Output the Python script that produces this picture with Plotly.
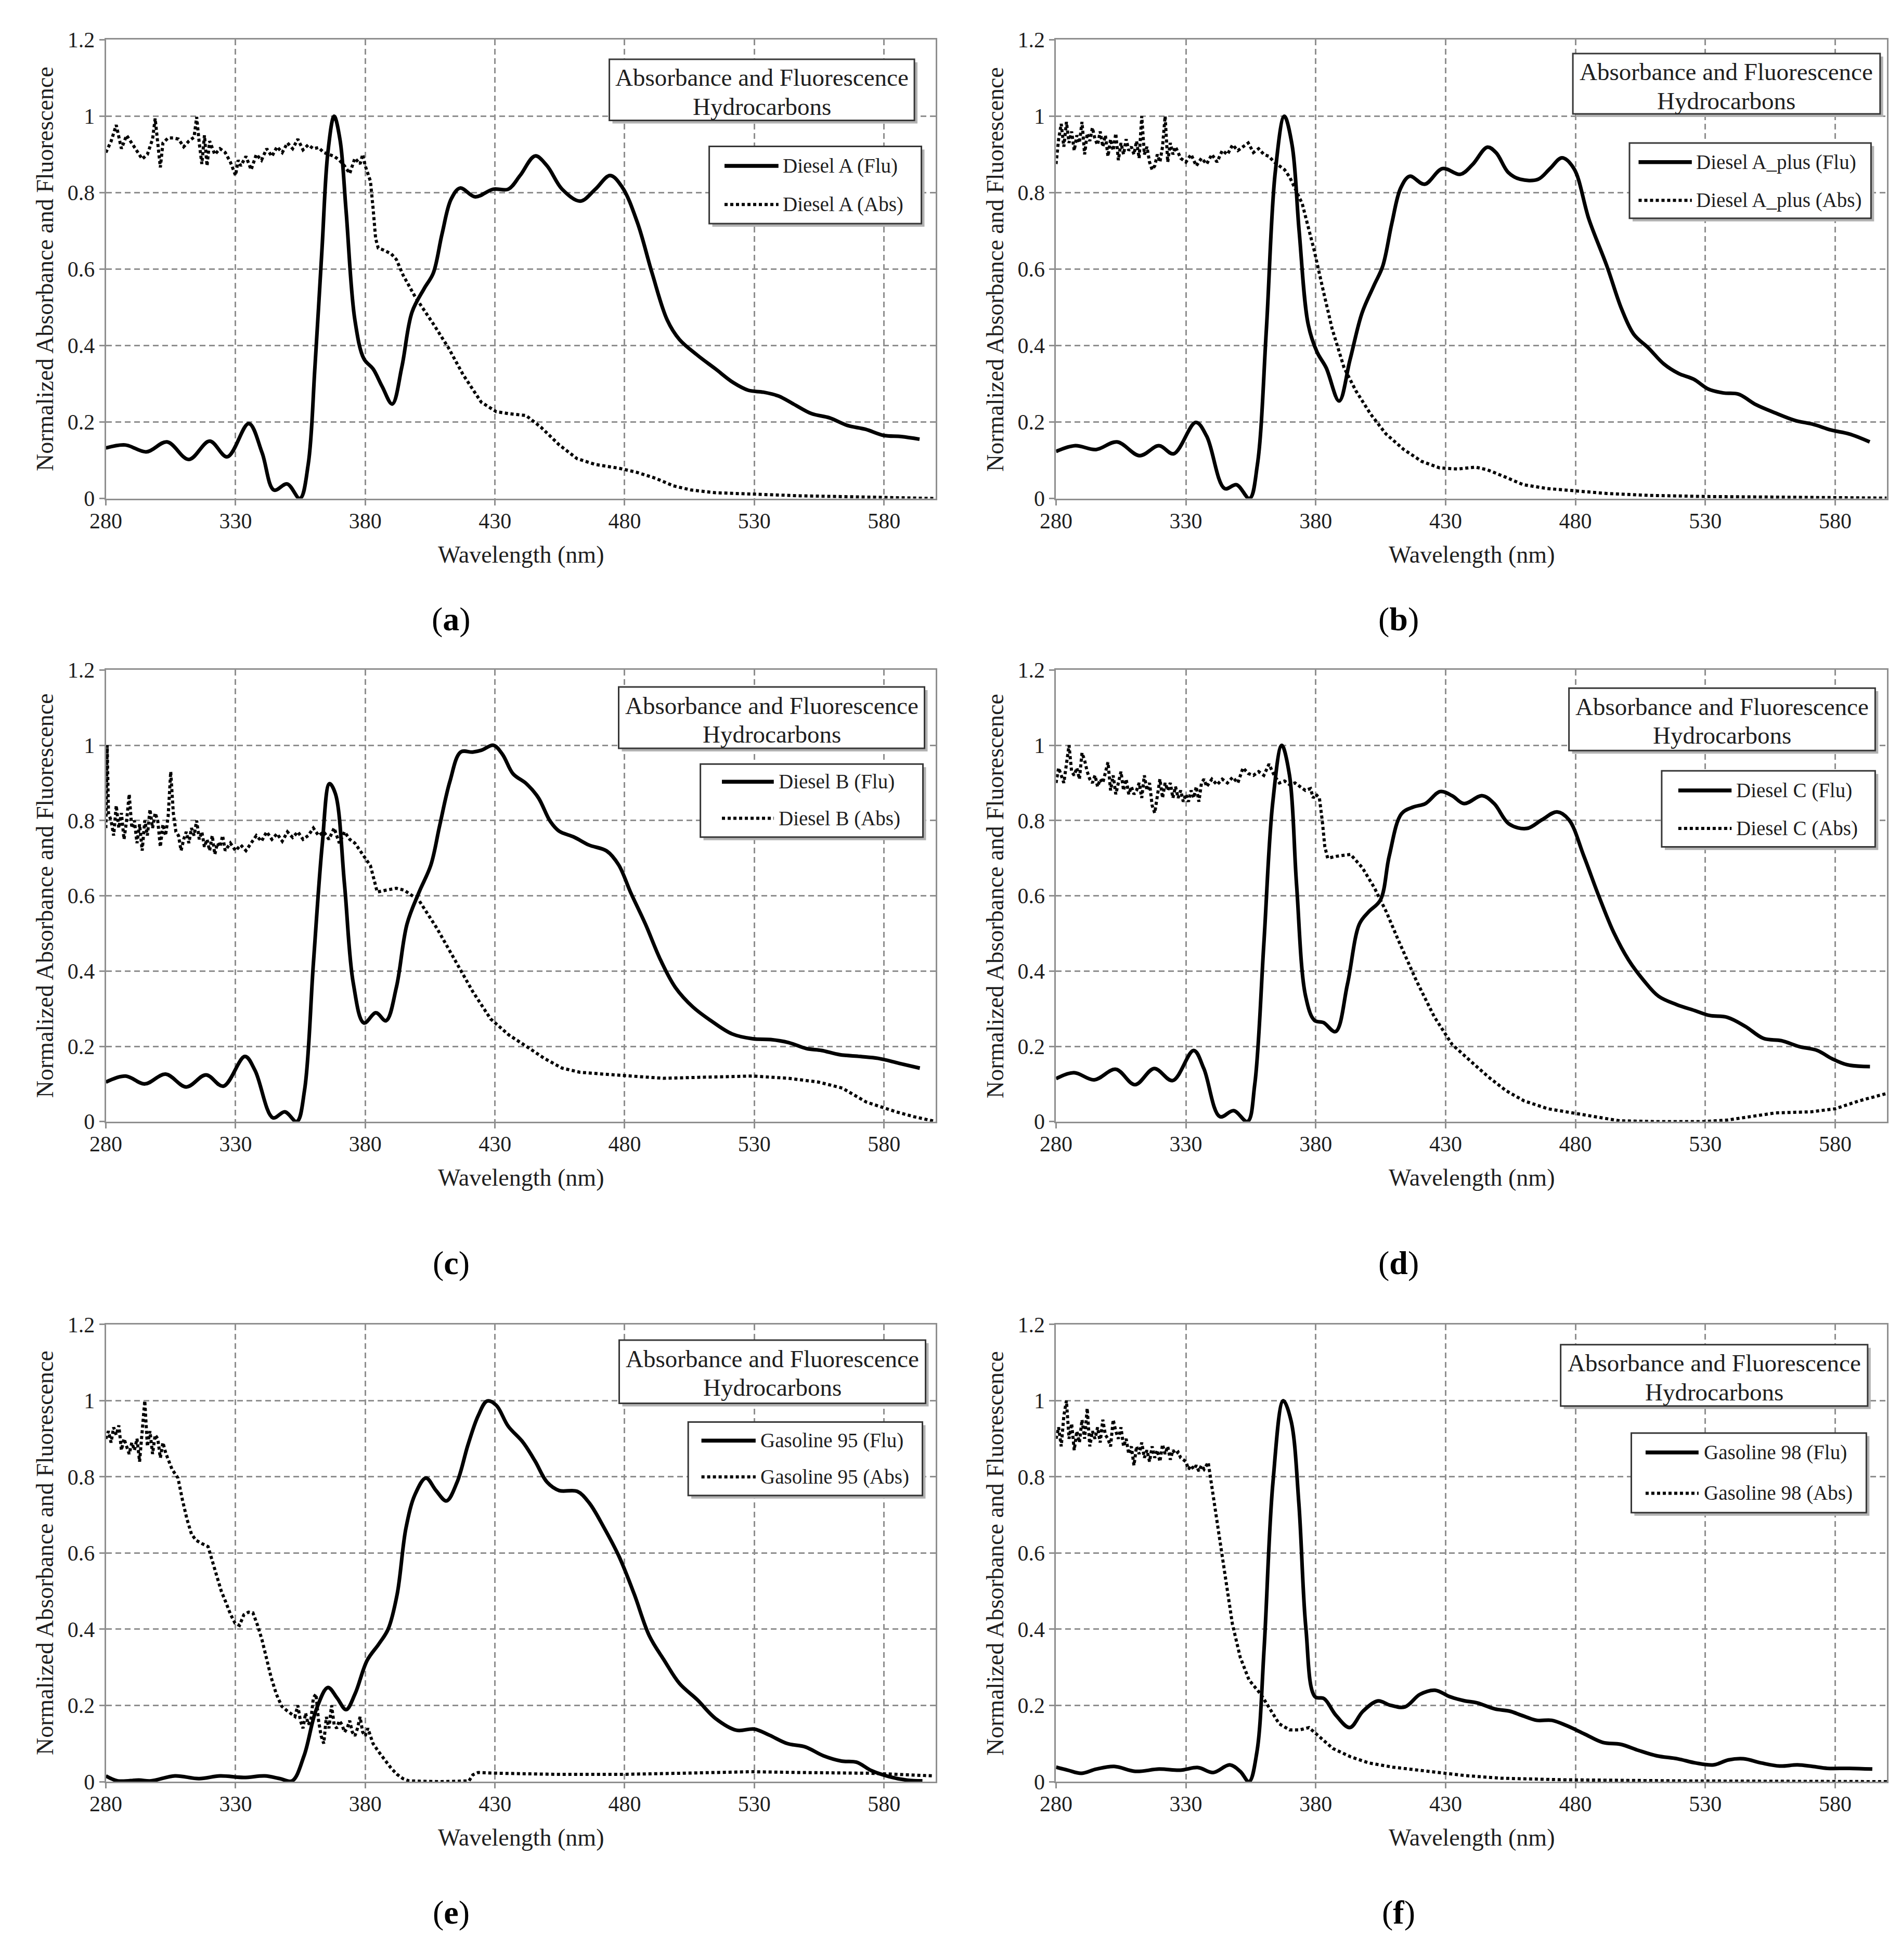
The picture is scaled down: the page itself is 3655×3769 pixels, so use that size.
import plotly.graph_objects as go
from plotly.subplots import make_subplots

# axis ticks
WAVE_TICKS = [280, 330, 380, 430, 480, 530, 580]
VALUE_TICKS = [0, 0.2, 0.4, 0.6, 0.8, 1.0, 1.2]
VALUE_TICK_TEXT = ["0", "0.2", "0.4", "0.6", "0.8", "1", "1.2"]

SAMPLES = ["Diesel A", "Diesel A_plus", "Diesel B", "Diesel C", "Gasoline 95", "Gasoline 98"]
PANEL_TAGS = ["a", "b", "c", "d", "e", "f"]
BOX_TITLE = ["Absorbance and Fluorescence", "Hydrocarbons"]

# (wavelength nm, normalized value)
A_FLU = [(280, 0.132), (287.4, 0.14), (295.7, 0.122), (303.6, 0.148), (312, 0.102), (320, 0.15),
         (326.8, 0.109), (335.1, 0.196), (340.2, 0.12), (344.8, 0.022), (349.9, 0.038), (354.8, 0.0),
         (358, 0.089), (360.6, 0.344), (363.3, 0.65), (365.6, 0.906), (368, 1.0), (370.3, 0.937),
         (372.6, 0.753), (376, 0.467), (379.5, 0.365), (383, 0.339), (386.5, 0.293), (390.4, 0.247),
         (394.1, 0.344), (398, 0.487), (402.7, 0.549), (406.2, 0.589), (409.6, 0.692), (413.1, 0.783),
         (416.6, 0.812), (422.4, 0.789), (429.3, 0.809), (435.1, 0.809), (439.7, 0.845), (445.5, 0.896),
         (450.1, 0.87), (455.9, 0.809), (462.9, 0.778), (468.7, 0.809), (474.4, 0.845), (479.1, 0.814),
         (484.9, 0.722), (490.6, 0.589), (496.4, 0.467), (501.1, 0.416), (508, 0.375), (515, 0.339),
         (521.9, 0.303), (527.7, 0.283), (533.5, 0.278), (539.3, 0.268), (545.1, 0.247), (552, 0.222),
         (558.9, 0.211), (565.9, 0.191), (572.8, 0.181), (579.8, 0.165), (586.7, 0.162), (593.7, 0.155)]
A_ABS = [(280, 0.905), (282, 0.934), (284, 0.977), (286, 0.915), (288, 0.95), (290, 0.93), (292, 0.91),
         (294, 0.888), (296, 0.9), (298, 0.94), (299, 0.994), (300, 0.92), (301, 0.866), (302, 0.93),
         (304, 0.943), (306, 0.943), (308, 0.94), (310, 0.92), (312, 0.935), (314, 0.945), (315, 0.998),
         (316, 0.93), (317, 0.875), (318, 0.95), (319, 0.87), (320, 0.935), (322, 0.9), (324, 0.915),
         (326, 0.905), (328, 0.88), (330, 0.845), (331, 0.885), (332, 0.87), (334, 0.895), (336, 0.86),
         (338, 0.9), (340, 0.885), (342, 0.915), (344, 0.895), (346, 0.92), (348, 0.905), (350, 0.93),
         (352, 0.915), (354, 0.94), (356, 0.912), (358, 0.925), (360, 0.915), (362, 0.918), (364, 0.905),
         (366, 0.9), (368, 0.895), (370, 0.885), (372, 0.87), (374, 0.85), (376, 0.89), (378, 0.875),
         (379, 0.9), (380, 0.87), (381, 0.85), (382, 0.83), (383, 0.76), (384, 0.68), (385, 0.655),
         (387, 0.65), (390, 0.64), (392, 0.625), (394.6, 0.584), (399.2, 0.528), (406.2, 0.457),
         (412, 0.395), (417.7, 0.324), (424.7, 0.252), (430.5, 0.227), (435.1, 0.222), (442, 0.217),
         (447.8, 0.186), (454.8, 0.14), (461.7, 0.104), (468.7, 0.089), (477.9, 0.079), (484.9, 0.068),
         (491.8, 0.053), (498.8, 0.033), (505.7, 0.022), (515, 0.015), (528.8, 0.011), (547.4, 0.007),
         (570.5, 0.004), (599.4, 0.0)]

B_FLU = [(280, 0.123), (287.4, 0.138), (295.4, 0.128), (303.5, 0.148), (312.2, 0.112), (319.6, 0.138),
         (325.3, 0.117), (333.8, 0.199), (338, 0.163), (344.9, 0.026), (349.5, 0.036), (354.5, 0.0),
         (357.5, 0.087), (361, 0.444), (364.4, 0.853), (367.9, 1.0), (370.9, 0.924), (373.6, 0.7),
         (377.1, 0.455), (380.5, 0.383), (384, 0.342), (389, 0.255), (393.2, 0.363), (397.8, 0.485),
         (402.4, 0.557), (405.8, 0.608), (409.3, 0.72), (412.7, 0.812), (416.2, 0.843), (421.9, 0.822),
         (428.8, 0.863), (435.7, 0.848), (440.3, 0.873), (446.1, 0.919), (449.5, 0.904), (454.1, 0.853),
         (458.7, 0.835), (465.6, 0.835), (470.2, 0.863), (474.8, 0.891), (479.4, 0.863), (485.2, 0.73),
         (492.1, 0.608), (497.8, 0.495), (502.5, 0.429), (508.2, 0.393), (514, 0.352), (519.7, 0.327),
         (525.5, 0.312), (531.2, 0.286), (537, 0.276), (542.7, 0.273), (549.6, 0.245), (556.5, 0.225),
         (564.6, 0.204), (571.5, 0.194), (578.4, 0.179), (585.3, 0.169), (593.3, 0.148)]
B_ABS = [(280, 0.875), (281, 0.94), (282, 0.98), (283, 0.92), (284, 0.985), (285, 0.93), (286, 0.96),
         (287, 0.91), (288, 0.95), (289, 0.93), (290, 0.985), (291, 0.9), (292, 0.955), (293, 0.935),
         (294, 0.97), (295, 0.94), (296, 0.925), (297, 0.96), (298, 0.92), (299, 0.95), (300, 0.895),
         (301, 0.94), (302, 0.91), (303, 0.955), (304, 0.885), (305, 0.93), (306, 0.9), (307, 0.94),
         (308, 0.91), (309, 0.92), (310, 0.9), (311, 0.935), (312, 0.89), (313, 1.0), (314, 0.9),
         (315, 0.92), (316, 0.88), (317, 0.86), (318, 0.87), (319, 0.9), (320, 0.88), (321, 0.92),
         (322, 1.0), (323, 0.88), (324, 0.93), (325, 0.9), (326, 0.92), (328, 0.89), (330, 0.88),
         (332, 0.9), (334, 0.87), (336, 0.89), (338, 0.875), (340, 0.9), (342, 0.88), (344, 0.91),
         (346, 0.9), (348, 0.925), (350, 0.91), (352, 0.92), (354, 0.93), (356, 0.905), (358, 0.915),
         (360, 0.9), (362, 0.895), (364, 0.88), (366, 0.87), (368, 0.86), (370, 0.84), (372, 0.81),
         (374.8, 0.771), (377.1, 0.71), (379.4, 0.649), (382.8, 0.546), (386.3, 0.444), (390.9, 0.342),
         (395.5, 0.281), (401.2, 0.22), (407, 0.169), (413.9, 0.128), (420.8, 0.097), (427.7, 0.08),
         (434.6, 0.077), (441.5, 0.082), (446.1, 0.075), (453, 0.056), (459.9, 0.036), (469.1, 0.026),
         (478.3, 0.02), (492.1, 0.013), (508.2, 0.008), (531.2, 0.005), (565.7, 0.003), (599.8, 0.001)]

C_FLU = [(280, 0.105), (287.6, 0.121), (295, 0.1), (303, 0.126), (311, 0.092), (318.6, 0.124),
         (325.3, 0.094), (333.6, 0.173), (337.5, 0.136), (344.4, 0.01), (349, 0.026), (353.6, 0.0),
         (356.6, 0.084), (360, 0.42), (363.4, 0.735), (366.2, 0.898), (368.5, 0.871), (372, 0.63),
         (375.4, 0.367), (379.5, 0.262), (384.1, 0.289), (388, 0.268), (392, 0.357), (396.1, 0.525),
         (400.7, 0.609), (405.3, 0.682), (408.7, 0.787), (412.6, 0.903), (416.8, 0.982), (421.4, 0.982),
         (424.8, 0.987), (429.4, 1.0), (432.9, 0.976), (437, 0.924), (442.1, 0.898), (446.7, 0.861),
         (451.3, 0.798), (454.7, 0.772), (460.5, 0.756), (466.2, 0.735), (473.1, 0.719), (477.7, 0.682),
         (482.3, 0.609), (488, 0.525), (493.8, 0.43), (499.5, 0.357), (506.4, 0.304), (513.3, 0.268),
         (521.4, 0.233), (529.4, 0.22), (536.3, 0.218), (543.2, 0.21), (550.1, 0.194), (555.9, 0.189),
         (562.8, 0.178), (570.8, 0.173), (577.7, 0.168), (585.7, 0.155), (593.8, 0.142)]
C_ABS = [(280, 0.78), (280.5, 1.0), (281, 0.82), (282, 0.8), (283, 0.76), (284, 0.84), (285, 0.78),
         (286, 0.82), (287, 0.75), (288, 0.8), (289, 0.87), (290, 0.78), (291, 0.8), (292, 0.74),
         (293, 0.79), (294, 0.72), (295, 0.8), (296, 0.76), (297, 0.83), (298, 0.78), (299, 0.82),
         (300, 0.8), (301, 0.73), (302, 0.79), (303, 0.76), (304, 0.81), (305, 0.93), (306, 0.82),
         (307, 0.77), (308, 0.76), (309, 0.72), (310, 0.75), (311, 0.77), (312, 0.74), (313, 0.78),
         (314, 0.76), (315, 0.8), (316, 0.75), (317, 0.77), (318, 0.73), (319, 0.75), (320, 0.72),
         (321, 0.76), (322, 0.71), (323, 0.74), (324, 0.73), (325, 0.76), (326, 0.72), (328, 0.74),
         (330, 0.72), (332, 0.735), (334, 0.72), (336, 0.74), (338, 0.76), (340, 0.745), (342, 0.77),
         (344, 0.75), (346, 0.765), (348, 0.745), (350, 0.77), (352, 0.755), (354, 0.77), (356, 0.75),
         (358, 0.76), (360, 0.78), (362, 0.76), (364, 0.77), (366, 0.75), (368, 0.78), (370, 0.74),
         (372, 0.77), (374, 0.75), (376, 0.74), (378, 0.72), (380, 0.7), (382, 0.68), (383.5, 0.64),
         (384.6, 0.61), (388, 0.615), (392, 0.62), (395, 0.615), (400.7, 0.588), (407.6, 0.514),
         (414.5, 0.43), (421.4, 0.346), (428.3, 0.273), (435.2, 0.231), (442.1, 0.2), (449, 0.168),
         (455.9, 0.142), (462.8, 0.131), (472, 0.126), (481.1, 0.121), (494.9, 0.115), (511, 0.118),
         (529.4, 0.121), (543.2, 0.115), (554.7, 0.105), (563.9, 0.089), (573.1, 0.052), (584.6, 0.026),
         (591.5, 0.013), (600, 0.0)]

D_FLU = [(280, 0.114), (286.9, 0.13), (294.7, 0.111), (303, 0.139), (310.4, 0.098), (317.8, 0.141),
         (324.9, 0.109), (333, 0.189), (336.9, 0.141), (343.1, 0.013), (348.4, 0.029), (353.7, 0.0),
         (356.5, 0.098), (360, 0.471), (363.4, 0.845), (366.9, 1.0), (369.9, 0.92), (372.6, 0.631),
         (376.1, 0.333), (379.5, 0.269), (383, 0.263), (387.6, 0.239), (392.2, 0.365), (396.8, 0.525),
         (400.3, 0.557), (404.9, 0.589), (408.3, 0.706), (413, 0.818), (417.6, 0.836), (422.2, 0.845),
         (427.9, 0.877), (432.5, 0.866), (437.1, 0.845), (444.1, 0.866), (448.7, 0.845), (454.4, 0.791),
         (461.3, 0.779), (467.1, 0.802), (472.9, 0.823), (477.5, 0.802), (483.2, 0.706), (489, 0.599),
         (494.7, 0.503), (500.5, 0.429), (506.3, 0.375), (512, 0.333), (518.9, 0.311), (525.9, 0.295),
         (531.6, 0.282), (538.5, 0.277), (545.4, 0.253), (552.4, 0.221), (559.3, 0.215), (566.2, 0.199),
         (573.1, 0.189), (578.8, 0.167), (584.6, 0.151), (593.4, 0.146)]
D_ABS = [(280, 0.9), (281, 0.94), (282, 0.92), (283, 0.9), (284, 0.95), (285, 1.0), (286, 0.93),
         (287, 0.92), (288, 0.94), (289, 0.91), (290, 0.98), (291, 0.96), (292, 0.93), (293, 0.91),
         (294, 0.9), (295, 0.92), (296, 0.89), (297, 0.91), (298, 0.9), (299, 0.93), (300, 0.955),
         (301, 0.88), (302, 0.92), (303, 0.87), (304, 0.9), (305, 0.93), (306, 0.88), (307, 0.91),
         (308, 0.87), (309, 0.89), (310, 0.87), (311, 0.88), (312, 0.9), (313, 0.86), (314, 0.92),
         (315, 0.88), (316, 0.9), (317, 0.84), (318, 0.82), (319, 0.87), (320, 0.91), (321, 0.86),
         (322, 0.9), (323, 0.88), (324, 0.9), (325, 0.86), (326, 0.89), (327, 0.86), (328, 0.88),
         (329, 0.85), (330, 0.87), (331, 0.85), (332, 0.88), (333, 0.86), (334, 0.89), (335, 0.85),
         (336, 0.9), (337, 0.91), (338, 0.89), (340, 0.91), (342, 0.895), (344, 0.91), (346, 0.9),
         (348, 0.915), (350, 0.9), (352, 0.94), (354, 0.925), (356, 0.92), (358, 0.93), (360, 0.92),
         (362, 0.95), (364, 0.92), (366, 0.9), (368, 0.905), (370, 0.895), (372, 0.9), (374, 0.89),
         (376, 0.88), (378, 0.885), (379, 0.86), (380, 0.87), (381.4, 0.86), (382.5, 0.8), (383.5, 0.73),
         (384.6, 0.7), (388, 0.705), (393.4, 0.71), (398, 0.674), (402.6, 0.621), (407.2, 0.557),
         (411.8, 0.482), (418.7, 0.375), (425.6, 0.279), (432.5, 0.205), (439.4, 0.162), (446.4, 0.119),
         (453.3, 0.082), (460.2, 0.055), (469.4, 0.034), (478.6, 0.023), (487.8, 0.011), (497, 0.002),
         (510.9, 0.0), (529.3, 0.0), (538.5, 0.004), (547.7, 0.013), (557, 0.023), (570.8, 0.026),
         (580, 0.034), (589.2, 0.055), (600, 0.075)]

E_FLU = [(280, 0.015), (284.6, 0.002), (292.7, 0.004), (297.4, 0.002), (306.6, 0.015), (315.9, 0.008),
         (324, 0.015), (333.2, 0.011), (341.3, 0.015), (347.1, 0.008), (351.8, 0.002), (356.4, 0.068),
         (361, 0.187), (365.6, 0.247), (369.1, 0.22), (372.6, 0.189), (376.1, 0.231), (380.7, 0.318),
         (385.3, 0.362), (388.8, 0.4), (392.3, 0.492), (395.7, 0.666), (399.2, 0.754), (403.4, 0.797),
         (407.3, 0.764), (411.3, 0.737), (415.4, 0.786), (419.6, 0.884), (423.5, 0.96), (427, 0.999),
         (430.5, 0.988), (435.1, 0.933), (440.9, 0.89), (445.5, 0.841), (450.1, 0.786), (454.8, 0.764),
         (461.7, 0.762), (466.3, 0.732), (472.1, 0.666), (477.9, 0.59), (483.7, 0.492), (489.5, 0.383),
         (495.3, 0.318), (501.1, 0.258), (508, 0.215), (515, 0.166), (523.1, 0.135), (530, 0.138),
         (535.8, 0.122), (542.7, 0.1), (549.7, 0.091), (556.6, 0.068), (563.6, 0.054), (569.4, 0.051),
         (575.1, 0.029), (582.1, 0.013), (589, 0.004), (594.8, 0.002)]
E_ABS = [(280, 0.9), (281, 0.92), (282, 0.89), (283, 0.93), (284, 0.91), (285, 0.935), (286, 0.87),
         (287, 0.9), (288, 0.88), (289, 0.86), (290, 0.89), (291, 0.87), (292, 0.9), (293, 0.84),
         (294, 0.92), (295, 1.0), (296, 0.88), (297, 0.92), (298, 0.86), (299, 0.91), (300, 0.9),
         (301, 0.85), (302, 0.89), (303.1, 0.862), (305.5, 0.82), (307.8, 0.797), (309.5, 0.74),
         (311.3, 0.688), (313, 0.65), (314.7, 0.634), (317, 0.625), (319.4, 0.617), (321, 0.58),
         (322.8, 0.536), (324.5, 0.5), (326.3, 0.47), (328, 0.44), (329.8, 0.416), (331.5, 0.41),
         (333.2, 0.438), (335, 0.445), (336.7, 0.443), (338.5, 0.41), (340.2, 0.372), (342, 0.32),
         (343.7, 0.274), (345.7, 0.23), (347.8, 0.198), (350, 0.185), (352.9, 0.171), (354, 0.2),
         (355, 0.16), (356, 0.14), (357, 0.18), (358, 0.15), (359, 0.16), (360, 0.22), (361, 0.23),
         (362, 0.16), (363, 0.12), (364, 0.1), (365, 0.17), (366, 0.14), (367, 0.2), (368, 0.15),
         (369, 0.14), (370, 0.16), (371, 0.15), (372, 0.13), (373, 0.14), (374, 0.16), (375, 0.13),
         (376, 0.12), (377, 0.14), (378, 0.17), (379, 0.13), (380, 0.12), (381, 0.14), (382, 0.12),
         (383, 0.1), (385, 0.08), (387.6, 0.057), (390, 0.035), (392.3, 0.019), (394.5, 0.008),
         (396.9, 0.002), (408.5, 0.0), (420, 0.002), (421.5, 0.018), (423.5, 0.024), (431.6, 0.022),
         (454.8, 0.019), (477.9, 0.019), (501.1, 0.022), (528.8, 0.026), (547.4, 0.024), (575.1, 0.022),
         (599.4, 0.015)]

F_FLU = [(280, 0.038), (284.6, 0.03), (289.7, 0.022), (295.5, 0.033), (302.4, 0.04), (310.5, 0.027),
         (319.7, 0.033), (327.8, 0.03), (334.7, 0.037), (340.5, 0.024), (346.9, 0.044), (350.9, 0.027),
         (354.3, 0.0), (357.3, 0.076), (360.1, 0.348), (363.5, 0.784), (367.5, 1.0), (370.5, 0.947),
         (373.5, 0.73), (376.2, 0.403), (379.7, 0.223), (383.2, 0.218), (387.8, 0.174), (393.1, 0.142),
         (398.2, 0.185), (404, 0.212), (408.5, 0.201), (414.3, 0.196), (420.1, 0.229), (425.9, 0.24),
         (431.6, 0.223), (437.4, 0.212), (442, 0.207), (448.9, 0.191), (454.7, 0.185), (459.3, 0.174),
         (465.1, 0.161), (470.9, 0.161), (476.6, 0.147), (483.5, 0.125), (490.5, 0.103), (497.4, 0.098),
         (504.3, 0.082), (511.2, 0.068), (519.3, 0.06), (526.3, 0.049), (533.2, 0.044), (538.9, 0.057),
         (544.7, 0.06), (551.6, 0.049), (558.6, 0.041), (565.5, 0.044), (571.3, 0.04), (577, 0.035),
         (585.1, 0.035), (594.3, 0.033)]
F_ABS = [(280, 0.9), (281, 0.93), (282, 0.88), (283, 0.96), (284, 1.0), (285, 0.9), (286, 0.94),
         (287, 0.87), (288, 0.92), (289, 0.89), (290, 0.95), (291, 0.9), (292, 0.98), (293, 0.88),
         (294, 0.92), (295, 0.9), (296, 0.93), (297, 0.89), (298, 0.95), (299, 0.91), (300, 0.9),
         (301, 0.88), (302, 0.95), (303, 0.92), (304, 0.9), (305, 0.93), (306, 0.88), (307, 0.9),
         (308, 0.86), (309, 0.88), (310, 0.83), (311, 0.88), (312, 0.86), (313, 0.89), (314, 0.85),
         (315, 0.87), (316, 0.84), (317, 0.88), (318, 0.85), (319, 0.87), (320, 0.84), (321, 0.885),
         (322, 0.86), (323, 0.88), (324, 0.845), (325, 0.87), (326, 0.86), (327, 0.865), (328, 0.85),
         (330, 0.84), (331, 0.82), (332, 0.83), (333, 0.82), (334, 0.83), (335, 0.815), (336, 0.83),
         (337, 0.82), (338.6, 0.838), (340.5, 0.751), (342.8, 0.642), (345.1, 0.534), (347.9, 0.414),
         (350.9, 0.327), (354.3, 0.267), (358.9, 0.229), (362.4, 0.191), (365.9, 0.152), (369.9, 0.136),
         (373.9, 0.136), (377.4, 0.142), (382, 0.114), (386.6, 0.087), (393.5, 0.065), (400.5, 0.049),
         (409.7, 0.038), (423.5, 0.027), (437.4, 0.016), (451.2, 0.009), (474.3, 0.005), (520.5, 0.002),
         (600, 0.0)]

FLU_SERIES = [A_FLU, B_FLU, C_FLU, D_FLU, E_FLU, F_FLU]
ABS_SERIES = [A_ABS, B_ABS, C_ABS, D_ABS, E_ABS, F_ABS]

# layout (pixels of the 3655 x 3769 page)
W, H = 3655, 3769
COLS = [(165, 1775), (2008, 3620)]
ROWS = [(47, 940), (1274, 2153), (2548, 3438)]
TAG_Y = [1175, 2428, 3693]
TAG_X = [835, 2672]
NM_PER_PX = 320 / 1610

# boxes in data units of each panel
TITLE_BOX = [  # x0, x1, y0, y1
    (474.1, 591.7, 0.989, 1.149),
    (479, 597.3, 1.006, 1.164),
    (477.7, 595.6, 0.992, 1.155),
    (477.5, 595.4, 0.986, 1.152),
    (477.9, 596, 0.993, 1.159),
    (474.3, 592.5, 0.986, 1.147),
]
LEGEND_BOX = [  # x0, x1, y0, y1, line x0, line x1, row1 y, row2 y, text x
    (512.6, 594.4, 0.719, 0.921, 518.5, 539.3, 0.87, 0.769, 540.5),
    (500.8, 593.8, 0.733, 0.93, 504.3, 524.8, 0.88, 0.78, 526),
    (509.2, 595, 0.756, 0.95, 517.5, 537.5, 0.903, 0.806, 539),
    (513.2, 595.4, 0.73, 0.932, 519.6, 540.1, 0.88, 0.779, 541.5),
    (504.5, 594.8, 0.751, 0.944, 509.6, 530.5, 0.895, 0.8, 532),
    (501.5, 592, 0.706, 0.915, 507, 527.4, 0.864, 0.757, 529),
]

FONT = "Liberation Serif, Times New Roman, serif"
TXT = "#1e1e1e"
AXC = "#8f8f8f"
BOXC = "#363636"
SHADOW = "#b2b2b2"
DOTS = "6px,5px"


def boxed(fig, xr, yr, x0, x1, y0, y1, units_per_px):
    # white box with a soft drop shadow to the lower right
    dx, dy = 6 * NM_PER_PX, 6 * units_per_px
    fig.add_shape(type="rect", xref=xr, yref=yr, x0=x0 + dx, x1=x1 + dx, y0=y0 - dy, y1=y1 - dy,
                  fillcolor=SHADOW, line=dict(width=0))
    fig.add_shape(type="rect", xref=xr, yref=yr, x0=x0, x1=x1, y0=y0, y1=y1,
                  fillcolor="white", line=dict(color=BOXC, width=3))


fig = make_subplots(rows=3, cols=2)

for i, tag in enumerate(PANEL_TAGS):
    r, c = i // 2, i % 2
    fx, fy = zip(*FLU_SERIES[i])
    ax, ay = zip(*ABS_SERIES[i])
    fig.add_trace(go.Scatter(x=fx, y=fy, mode="lines", name=SAMPLES[i] + " (Flu)",
                             line=dict(color="black", width=7, shape="spline", smoothing=1.0)),
                  row=r + 1, col=c + 1)
    fig.add_trace(go.Scatter(x=ax, y=ay, mode="lines", name=SAMPLES[i] + " (Abs)",
                             line=dict(color="black", width=6, dash=DOTS)),
                  row=r + 1, col=c + 1)

    sfx = "" if i == 0 else str(i + 1)
    xa, ya = "xaxis" + sfx, "yaxis" + sfx
    xr, yr = "x" + sfx, "y" + sfx
    x0, x1 = COLS[c]
    top, bot = ROWS[r]
    upp = 1.2 / (bot - top)
    fig.layout[xa].domain = [x0 / W, x1 / W]
    fig.layout[ya].domain = [1 - bot / H, 1 - top / H]

    # axis titles
    fig.add_annotation(text="Wavelength (nm)", xref="paper", yref="paper",
                       x=(x0 + x1) / 2 / W, y=1 - (bot + 109) / H, showarrow=False,
                       xanchor="center", yanchor="middle",
                       font=dict(family=FONT, size=46, color=TXT))
    fig.add_annotation(text="Normalized Absorbance and Fluorescence", xref="paper", yref="paper",
                       x=(x0 - 118) / W, y=1 - (top + bot) / 2 / H, textangle=-90, showarrow=False,
                       xanchor="center", yanchor="middle",
                       font=dict(family=FONT, size=46, color=TXT))
    # panel tag
    fig.add_annotation(text="(<b>%s</b>)" % tag, xref="paper", yref="paper",
                       x=TAG_X[c] / W, y=1 - TAG_Y[r] / H, showarrow=False,
                       xanchor="center", yanchor="middle",
                       font=dict(family=FONT, size=64, color="black"))

    # title box
    tx0, tx1, ty0, ty1 = TITLE_BOX[i]
    boxed(fig, xr, yr, tx0, tx1, ty0, ty1, upp)
    for k, line in enumerate(BOX_TITLE):
        fig.add_annotation(text=line, xref=xr, yref=yr, x=(tx0 + tx1) / 2,
                           y=ty1 - (36 + 56 * k) * upp, showarrow=False,
                           xanchor="center", yanchor="middle",
                           font=dict(family=FONT, size=47, color=TXT))

    # legend box
    bx0, bx1, by0, by1, lx0, lx1, ly1, ly2, ltx = LEGEND_BOX[i]
    boxed(fig, xr, yr, bx0, bx1, by0, by1, upp)
    fig.add_shape(type="line", xref=xr, yref=yr, x0=lx0, x1=lx1, y0=ly1, y1=ly1,
                  line=dict(color="black", width=7.5))
    fig.add_shape(type="line", xref=xr, yref=yr, x0=lx0, x1=lx1, y0=ly2, y1=ly2,
                  line=dict(color="black", width=6, dash=DOTS))
    for yy, lab in ((ly1, " (Flu)"), (ly2, " (Abs)")):
        fig.add_annotation(text=SAMPLES[i] + lab, xref=xr, yref=yr, x=ltx, y=yy,
                           xanchor="left", yanchor="middle", showarrow=False,
                           font=dict(family=FONT, size=39, color=TXT))

fig.update_xaxes(range=[280, 600], tickvals=WAVE_TICKS, showline=True, mirror=True,
                 linecolor=AXC, linewidth=3, showgrid=True, gridcolor=AXC, gridwidth=3,
                 griddash="11px,7px", zeroline=False, ticks="outside", ticklen=10,
                 tickcolor=AXC, tickwidth=3, ticklabelstandoff=-6,
                 tickfont=dict(family=FONT, size=42, color=TXT))
fig.update_yaxes(range=[0, 1.2], tickvals=VALUE_TICKS, ticktext=VALUE_TICK_TEXT, showline=True,
                 mirror=True, linecolor=AXC, linewidth=3, showgrid=True, gridcolor=AXC,
                 gridwidth=3, griddash="11px,7px", zeroline=False, ticks="outside", ticklen=10,
                 tickcolor=AXC, tickwidth=3, tickfont=dict(family=FONT, size=42, color=TXT))

fig.update_layout(width=W, height=H, margin=dict(l=0, r=0, t=0, b=0), showlegend=False,
                  paper_bgcolor="white", plot_bgcolor="white")

fig.write_html("out.html")
